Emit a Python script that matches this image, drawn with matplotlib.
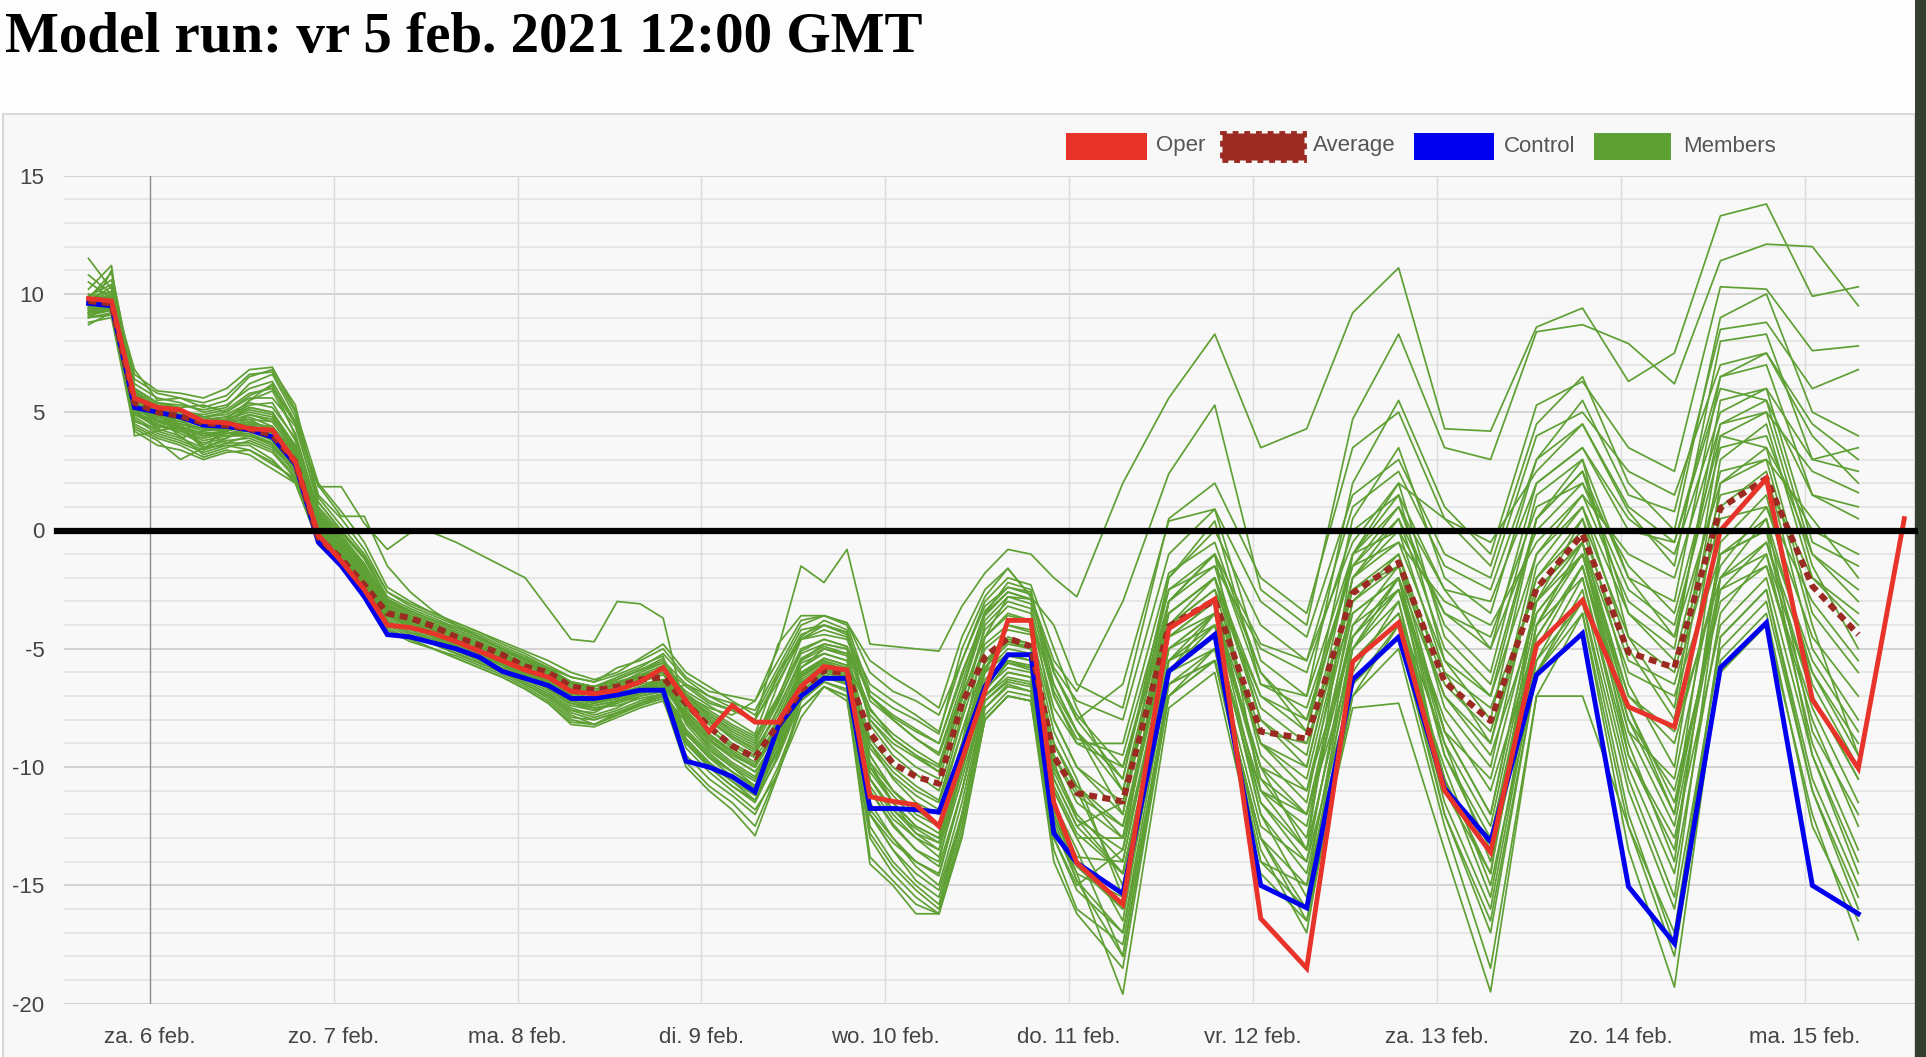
import matplotlib
matplotlib.use('Agg')
import matplotlib.pyplot as plt
from matplotlib.patches import Rectangle

W, H = 1926, 1057

# time axis: hours since za. 6 feb 00:00 (local), 3-hourly then 6-hourly
steps = list(range(3, 133, 3)) + list(range(138, 235, 6))
hours = [s - 11 for s in steps]
oper_hours = hours + [229]

day_ticks = [0, 24, 48, 72, 96, 120, 144, 168, 192, 216]
day_labels = ['za. 6 feb.', 'zo. 7 feb.', 'ma. 8 feb.', 'di. 9 feb.', 'wo. 10 feb.',
              'do. 11 feb.', 'vr. 12 feb.', 'za. 13 feb.', 'zo. 14 feb.', 'ma. 15 feb.']
y_major = [-20, -15, -10, -5, 0, 5, 10, 15]
y_minor = list(range(-20, 16))

oper = [9.8, 9.7, 5.6,
        5.2, 5.1, 4.6, 4.55, 4.3, 4.25, 2.9,
        -0.2, -1.3, -2.5, -4.0, -4.1, -4.35, -4.7, -5.1,
        -5.5, -5.9, -6.2, -6.8, -6.9, -6.75, -6.4, -5.8,
        -7.2, -8.5, -7.4, -8.1, -8.1, -6.6, -5.75, -5.9,
        -11.25, -11.45, -11.6, -12.5, -9.7, -6.8, -3.8, -3.8, -11.5, -14.05,
        -15.8, -4.15, -2.9, -16.4, -18.5, -5.55, -3.9, -11.0, -13.6, -4.85, -2.95,
        -7.45, -8.3, 0.0, 2.2, -7.15, -10.05, 0.5]

control = [9.6, 9.5, 5.2,
           5.0, 4.8, 4.45, 4.4, 4.25, 3.95, 2.8,
           -0.5, -1.5, -2.8, -4.4, -4.5, -4.75, -5.0, -5.35,
           -5.95, -6.25, -6.55, -7.1, -7.1, -6.95, -6.75, -6.75,
           -9.75, -10.0, -10.4, -11.05, -8.3, -7.0, -6.25, -6.25,
           -11.75, -11.75, -11.8, -11.9, -9.3, -6.6, -5.25, -5.25, -12.8, -14.05,
           -15.35, -5.95, -4.4, -15.0, -15.95, -6.3, -4.5, -10.9, -13.15, -6.1, -4.35,
           -15.05, -17.45, -5.8, -3.9, -15.0, -16.2]

average = [9.7, 9.6, 5.4,
           5.0, 4.85, 4.55, 4.45, 4.3, 4.05, 2.9,
           -0.3, -1.2, -2.3, -3.5, -3.7, -4.05, -4.5, -4.85,
           -5.25, -5.75, -6.0, -6.6, -6.75, -6.6, -6.3, -6.2,
           -7.3, -8.3, -9.1, -9.6, -8.2, -6.75, -5.9, -6.05,
           -8.55, -9.85, -10.4, -10.7, -7.3, -5.35, -4.55, -4.9, -9.55, -11.1,
           -11.45, -4.05, -2.95, -8.5, -8.8, -2.65, -1.35, -6.4, -8.05, -2.45, -0.15,
           -5.15, -5.8, 0.95, 2.2, -2.35, -4.4]

members = [
    [9.3, 9.6, 5.5, 5.0, 4.8, 4.5, 4.7, 5.0, 4.8, 3.4,
     0.5, -0.6, -1.7, -3.1, -3.6, -4.0, -4.4, -4.8, -5.2, -5.6, -6.0, -6.5, -6.6, -6.3, -5.9, -5.4,
     -7.0, -7.5, -7.8, -7.2, -5.0, -1.5, -2.2, -0.8, -4.8, -4.9, -5.0, -5.1, -3.2, -1.8, -0.8, -1.0, -2.0, -2.8,
     2.0, 5.6, 8.3, 3.5, 4.3, 9.2, 11.1, 4.3, 4.2, 8.6, 9.4, 6.3, 7.5, 13.3, 13.8, 9.9, 10.3],
    [9.8, 10.9, 6.2, 5.6, 5.4, 5.0, 5.2, 6.2, 6.6, 4.8,
     1.4, 0.2, -1.0, -2.6, -3.2, -3.6, -4.0, -4.4, -4.9, -5.3, -5.8, -6.2, -6.4, -5.8, -5.5, -5.0,
     -6.2, -6.8, -7.0, -7.2, -5.5, -3.8, -3.6, -4.0, -6.8, -7.5, -8.0, -8.6, -5.0, -2.8, -1.6, -2.8, -5.5, -6.8,
     -3.0, 2.4, 5.3, -2.5, -4.0, 4.7, 8.3, 3.5, 3.0, 8.4, 8.7, 7.9, 6.2, 11.4, 12.1, 12.0, 9.5],
    [9.5, 9.9, 5.8, 5.2, 5.0, 4.9, 5.1, 5.8, 6.0, 4.5,
     1.85, 1.85, 0.3, -0.8, -0.1, -0.1, -0.5, -1.0, -1.5, -2.0, -3.3, -4.6, -4.7, -3.0, -3.1, -3.7,
     -7.8, -8.8, -9.5, -10.0, -8.5, -6.0, -5.5, -6.0, -9.5, -11.0, -12.0, -12.5, -9.0, -4.5, -2.8, -2.9, -6.0, -8.0,
     -6.5, 0.4, 0.9, -5.5, -7.0, 2.0, 5.5, 1.0, -1.0, 5.3, 6.3, 3.5, 2.5, 10.3, 10.2, 7.6, 7.8],
    [10.2, 11.2, 4.0, 4.2, 4.4, 3.6, 4.2, 5.5, 6.2, 4.0,
     0.8, -0.4, -1.5, -3.0, -3.4, -3.8, -4.1, -4.5, -5.0, -5.4, -5.8, -6.4, -6.9, -6.5, -6.0, -5.6,
     -7.0, -7.8, -8.5, -9.0, -6.5, -4.5, -3.8, -4.2, -7.2, -8.0, -8.8, -9.5, -6.8, -3.5, -2.2, -2.5, -7.0, -9.0,
     -9.0, -1.8, -0.5, -6.0, -8.5, 0.5, 3.5, -2.0, -3.5, 3.0, 5.5, 1.5, 0.8, 8.5, 8.8, 6.0, 6.8],
    [9.1, 9.4, 5.2, 4.8, 4.5, 4.2, 4.3, 4.4, 4.0, 2.9,
     0.0, -1.0, -2.0, -3.6, -4.0, -4.4, -4.8, -5.2, -5.6, -6.0, -6.4, -7.0, -7.2, -7.0, -6.6, -6.4,
     -7.5, -8.2, -9.0, -9.5, -7.5, -5.5, -5.0, -5.2, -7.5, -8.8, -9.5, -10.0, -7.0, -4.5, -3.5, -3.8, -6.5, -8.5,
     -10.5, -2.5, -1.0, -4.8, -5.5, -0.5, 2.0, 0.5, -0.5, 2.5, 4.5, 0.8, -1.5, 8.0, 8.3, 3.0, 3.5],
    [9.6, 10.0, 6.6, 5.9, 5.8, 5.6, 6.0, 6.8, 6.9, 5.1,
     2.0, 0.8, -0.5, -2.4, -3.0, -3.5, -3.9, -4.3, -4.7, -5.1, -5.5, -6.0, -6.3, -6.0, -5.4, -4.8,
     -6.0, -6.6, -7.2, -7.8, -6.0, -4.2, -4.0, -4.4, -8.0, -9.2, -10.0, -10.5, -7.5, -4.8, -4.0, -4.2, -8.0, -10.0,
     -12.0, -3.0, -1.5, -8.0, -9.5, -1.0, 1.0, -4.0, -6.0, 1.5, 3.0, -2.0, -3.0, 6.5, 7.0, 1.5, 1.0],
    [9.2, 9.3, 4.6, 4.3, 4.0, 3.2, 3.5, 3.8, 3.4, 2.3,
     -0.3, -1.2, -2.1, -3.8, -4.3, -4.6, -5.0, -5.4, -5.8, -6.3, -6.8, -7.5, -7.8, -7.5, -7.0, -6.8,
     -8.5, -9.5, -10.2, -10.8, -9.0, -6.5, -5.8, -6.2, -9.0, -10.5, -11.5, -12.0, -9.0, -6.0, -5.0, -5.2, -9.5, -11.5,
     -13.0, -3.5, -2.0, -9.5, -11.5, -2.0, 0.5, -5.0, -7.0, 0.5, 2.5, -3.5, -5.0, 5.5, 6.0, -0.5, -1.5],
    [9.4, 9.8, 5.4, 4.9, 4.6, 4.7, 4.4, 4.9, 4.7, 3.6,
     0.9, -0.2, -1.4, -3.2, -3.7, -4.1, -4.5, -4.9, -5.3, -5.7, -6.1, -6.6, -6.8, -6.4, -6.1, -5.9,
     -6.8, -7.4, -8.0, -8.6, -6.0, -4.6, -4.2, -4.5, -6.5, -7.2, -7.8, -8.5, -5.5, -3.0, -2.0, -2.3, -5.0, -7.5,
     -11.0, -4.0, -2.5, -7.0, -8.0, -1.5, -0.5, -3.0, -4.0, -0.5, 1.5, -1.0, -2.0, 4.5, 5.0, 2.5, 1.6],
    [8.7, 9.2, 5.0, 4.6, 4.3, 4.0, 4.1, 4.2, 3.8, 2.6,
     -0.2, -1.1, -2.0, -3.5, -4.1, -4.5, -4.9, -5.3, -5.7, -6.2, -6.7, -7.3, -7.6, -7.2, -6.9, -6.6,
     -8.0, -9.0, -9.8, -10.4, -8.6, -6.2, -5.6, -5.9, -10.0, -11.5, -12.5, -13.0, -9.5, -6.0, -5.2, -5.5, -10.0, -12.0,
     -14.0, -4.5, -3.0, -10.5, -13.0, -3.0, -1.0, -7.5, -10.0, -1.5, 1.0, -5.0, -8.0, 3.0, 4.5, -2.0, -4.0],
    [9.9, 10.4, 5.7, 5.3, 5.1, 4.8, 4.9, 5.4, 5.2, 3.9,
     0.4, -0.7, -1.8, -3.3, -3.8, -4.2, -4.6, -5.0, -5.4, -5.9, -6.3, -6.9, -7.1, -6.9, -6.4, -6.1,
     -7.2, -8.0, -8.8, -9.4, -8.0, -6.0, -5.4, -5.7, -9.0, -10.2, -11.0, -11.5, -8.5, -5.5, -4.6, -4.8, -9.0, -11.0,
     -15.0, -5.0, -3.5, -11.5, -14.0, -4.0, -1.5, -8.5, -12.0, -3.0, 0.5, -6.5, -10.0, 2.0, 3.5, -3.5, -6.0],
    [9.0, 9.5, 4.3, 3.8, 3.0, 3.5, 3.6, 3.6, 3.0, 2.0,
     -0.5, -1.4, -2.2, -4.0, -4.5, -4.8, -5.2, -5.6, -6.0, -6.5, -7.0, -7.8, -8.2, -7.8, -7.3, -7.0,
     -9.0, -10.0, -10.8, -11.5, -9.5, -7.0, -6.2, -6.5, -11.0, -12.5, -13.5, -14.0, -10.0, -6.5, -5.5, -5.8, -11.0, -13.0,
     -16.5, -5.5, -4.0, -12.0, -15.5, -5.0, -2.0, -9.5, -13.5, -4.0, -0.5, -7.5, -12.0, 1.0, 2.5, -5.0, -8.0],
    [9.7, 10.1, 6.0, 5.4, 5.2, 5.3, 5.0, 5.6, 5.6, 4.4,
     1.2, 0.0, -1.2, -2.9, -3.4, -3.8, -4.2, -4.6, -5.0, -5.5, -5.9, -6.4, -6.6, -6.4, -6.2, -5.8,
     -7.6, -8.6, -9.4, -10.0, -8.2, -6.4, -5.9, -6.2, -10.5, -12.0, -13.0, -13.8, -10.5, -7.0, -6.0, -6.2, -11.5, -13.5,
     -18.0, -6.5, -5.0, -13.5, -17.0, -6.0, -3.0, -10.5, -15.5, -5.0, -1.5, -9.0, -14.0, -0.5, 1.5, -6.5, -10.0],
    [9.3, 9.6, 5.3, 4.7, 4.4, 4.1, 4.0, 4.1, 3.6, 2.4,
     -0.6, -1.4, -2.2, -4.2, -4.7, -5.0, -5.4, -5.8, -6.2, -6.7, -7.3, -8.2, -8.3, -7.9, -7.5, -7.2,
     -9.5, -10.5, -11.2, -12.0, -10.0, -7.5, -6.6, -7.0, -12.0, -13.5, -14.8, -15.5, -12.0, -7.5, -6.5, -6.8, -12.5, -14.5,
     -19.6, -7.5, -6.0, -14.5, -16.5, -7.0, -4.0, -12.0, -17.0, -6.0, -2.5, -10.5, -15.5, -2.0, 0.5, -8.5, -12.0],
    [10.5, 9.8, 5.9, 5.1, 4.9, 4.8, 4.6, 5.2, 5.0, 3.5,
     0.6, -0.5, -1.6, -3.2, -3.7, -4.1, -4.5, -4.9, -5.3, -5.8, -6.2, -6.8, -7.0, -6.7, -6.3, -6.0,
     -8.0, -9.2, -10.0, -10.6, -8.5, -5.8, -5.0, -5.3, -9.5, -11.0, -11.8, -12.5, -9.2, -5.8, -4.8, -5.0, -9.0, -10.8,
     -12.5, -4.5, -3.0, -9.0, -10.5, -2.5, -1.0, -6.5, -8.5, -2.0, 0.0, -5.5, -6.5, 0.5, 1.0, -4.5, -7.0],
    [9.5, 9.7, 5.1, 4.4, 4.2, 3.8, 4.0, 4.0, 3.7, 2.7,
     0.1, -0.9, -1.9, -3.5, -4.0, -4.4, -4.8, -5.2, -5.6, -6.1, -6.5, -7.1, -7.3, -7.1, -6.7, -6.4,
     -7.0, -7.8, -8.4, -8.9, -7.2, -5.2, -4.8, -5.0, -8.0, -9.0, -9.6, -10.2, -7.0, -4.5, -3.6, -3.8, -7.5, -9.0,
     -10.0, -3.5, -2.0, -7.5, -9.0, -2.5, -1.5, -6.0, -7.5, -2.5, -0.5, -6.0, -7.0, -1.0, 0.0, -5.5, -8.5],
    [9.2, 9.5, 4.9, 4.5, 4.1, 3.7, 3.9, 4.3, 3.9, 2.8,
     -0.1, -1.0, -1.9, -3.6, -4.1, -4.5, -4.9, -5.3, -5.7, -6.2, -6.6, -7.2, -7.5, -7.3, -7.0, -6.8,
     -8.8, -9.8, -10.5, -11.0, -9.0, -6.8, -6.0, -6.3, -10.8, -12.2, -13.0, -13.5, -10.0, -6.5, -5.6, -5.9, -10.5, -12.5,
     -11.5, -4.0, -3.0, -8.5, -9.0, -3.5, -2.0, -7.0, -9.5, -3.5, -1.0, -7.0, -8.5, -2.0, -0.5, -7.0, -10.5],
    [9.8, 9.9, 5.6, 5.0, 4.7, 4.4, 4.5, 4.8, 4.4, 3.2,
     0.3, -0.8, -1.8, -3.3, -3.9, -4.3, -4.7, -5.1, -5.5, -5.9, -6.4, -7.0, -7.2, -7.0, -6.8, -6.5,
     -9.8, -10.8, -11.5, -12.5, -10.2, -7.9, -6.6, -7.2, -13.0, -14.5, -15.5, -16.2, -13.0, -8.0, -7.0, -7.2, -13.0, -15.0,
     -13.5, -5.0, -4.0, -10.0, -11.0, -4.5, -2.5, -8.0, -11.0, -4.5, -1.5, -8.0, -11.0, -3.0, -1.5, -8.0, -12.5],
    [9.0, 9.2, 4.5, 4.0, 3.7, 3.3, 3.6, 3.4, 2.9, 2.1,
     -0.4, -1.3, -2.1, -3.9, -4.4, -4.8, -5.2, -5.6, -6.0, -6.5, -7.1, -7.9, -8.0, -7.7, -7.4, -7.0,
     -8.6, -9.6, -10.2, -10.8, -8.8, -6.5, -5.8, -6.0, -10.0, -11.2, -12.2, -12.8, -9.8, -6.3, -5.3, -5.5, -10.2, -12.2,
     -14.5, -5.5, -4.5, -11.0, -12.0, -5.5, -3.5, -9.0, -14.0, -5.5, -2.0, -9.5, -13.0, -4.0, -2.0, -9.5, -14.0],
    [9.6, 9.9, 5.4, 4.8, 4.5, 4.3, 4.3, 4.5, 4.1, 3.0,
     0.2, -0.9, -1.9, -3.4, -3.9, -4.3, -4.7, -5.1, -5.5, -6.0, -6.4, -7.0, -7.2, -6.9, -6.6, -6.3,
     -7.4, -8.4, -9.2, -9.8, -8.4, -6.1, -5.5, -5.8, -11.5, -13.0, -14.0, -14.5, -11.0, -7.0, -6.2, -6.4, -12.0, -14.0,
     -16.0, -6.0, -5.0, -12.5, -14.0, -6.5, -4.5, -10.0, -15.0, -6.0, -3.0, -11.0, -16.0, -5.0, -3.0, -11.0, -15.5],
    [9.4, 9.7, 5.0, 4.5, 4.2, 3.9, 4.1, 4.3, 3.9, 2.8,
     -0.2, -1.1, -2.0, -3.6, -4.1, -4.5, -4.9, -5.3, -5.7, -6.2, -6.7, -7.4, -7.6, -7.3, -6.9, -6.6,
     -9.2, -10.2, -11.0, -11.8, -10.3, -7.2, -6.4, -6.8, -13.8, -14.8, -15.8, -16.2, -12.5, -8.0, -7.0, -7.2, -13.5, -16.0,
     -17.5, -6.5, -5.5, -13.0, -16.0, -7.5, -7.3, -13.5, -19.5, -7.0, -7.0, -12.5, -18.0, -6.0, -4.0, -12.0, -17.3],
    [11.5, 10.2, 6.8, 5.5, 5.6, 5.2, 5.5, 6.5, 6.8, 5.3,
     1.2, 0.0, -1.1, -2.8, -3.3, -3.7, -4.1, -4.5, -5.0, -5.4, -5.9, -6.5, -6.6, -6.2, -5.8, -5.2,
     -6.3, -7.0, -7.5, -8.0, -4.8, -3.6, -3.6, -3.9, -6.0, -6.8, -7.2, -7.8, -5.5, -3.2, -2.4, -2.6, -6.5, -8.5,
     -12.0, -2.0, 0.4, -6.5, -7.0, -1.0, 0.0, -3.5, -4.5, 1.0, 2.0, -1.5, -3.5, 4.0, 3.5, 0.0, -1.0],
    [10.0, 9.6, 5.2, 4.6, 4.3, 3.5, 3.9, 4.5, 4.4, 3.3,
     0.3, -0.7, -1.7, -3.3, -3.8, -4.2, -4.6, -5.0, -5.4, -5.9, -6.3, -6.9, -7.1, -6.8, -6.5, -6.3,
     -7.3, -8.1, -8.7, -9.2, -7.8, -5.6, -5.2, -5.5, -7.8, -8.8, -9.5, -10.2, -7.2, -4.2, -3.2, -3.5, -7.0, -8.8,
     -9.5, -2.5, -1.5, -5.0, -6.0, 0.0, 1.5, -2.5, -3.0, 2.0, 3.5, 0.0, -0.5, 6.0, 5.5, 1.5, 0.5],
    [9.1, 11.0, 5.9, 5.3, 5.0, 4.5, 4.7, 5.5, 5.9, 4.1,
     0.8, -0.3, -1.4, -3.0, -3.5, -3.9, -4.3, -4.7, -5.1, -5.5, -6.0, -6.5, -6.7, -6.5, -6.1, -5.7,
     -6.6, -7.3, -7.6, -8.0, -6.2, -4.4, -4.0, -4.3, -7.0, -7.8, -8.4, -9.0, -6.0, -3.6, -2.6, -2.9, -5.8, -7.2,
     -8.0, -1.0, 0.9, -3.0, -4.5, 1.5, 3.0, -1.0, -2.0, 4.0, 5.0, 2.5, 1.5, 7.0, 7.5, 4.5, 3.0],
    [9.5, 9.6, 5.1, 4.7, 4.4, 4.0, 4.2, 4.4, 4.1, 3.0,
     0.0, -1.0, -2.0, -3.6, -4.1, -4.5, -4.9, -5.3, -5.7, -6.2, -6.7, -7.3, -7.5, -7.4, -7.1, -6.9,
     -8.1, -9.1, -9.9, -10.5, -8.8, -6.4, -5.8, -6.1, -12.5, -14.0, -15.0, -15.8, -12.0, -7.5, -6.6, -6.8, -12.0, -14.5,
     -15.5, -6.0, -4.5, -11.0, -12.5, -4.0, -2.5, -8.5, -10.5, -3.0, -0.5, -7.0, -9.0, -1.5, 1.0, -3.0, -5.5],
    [9.7, 10.3, 5.5, 4.9, 4.7, 4.4, 4.6, 4.9, 4.6, 3.3,
     0.4, -0.6, -1.7, -3.2, -3.7, -4.1, -4.5, -4.9, -5.3, -5.8, -6.3, -6.9, -7.1, -6.9, -6.6, -6.4,
     -7.8, -8.8, -9.6, -10.2, -8.8, -6.6, -6.0, -6.3, -11.0, -12.4, -13.5, -14.2, -11.0, -7.0, -6.0, -6.2, -11.8, -13.8,
     -14.0, -5.0, -3.5, -10.0, -13.5, -5.0, -3.0, -11.0, -13.0, -4.5, -1.5, -8.5, -12.5, -2.5, -0.5, -6.0, -9.0],
    [9.3, 9.5, 5.3, 4.6, 4.4, 4.1, 4.2, 4.6, 4.3, 3.1,
     0.1, -0.9, -1.9, -3.4, -3.9, -4.4, -4.8, -5.2, -5.6, -6.1, -6.5, -7.1, -7.3, -7.1, -6.8, -6.6,
     -7.5, -8.4, -9.1, -9.6, -8.2, -6.1, -5.6, -5.9, -9.2, -10.4, -11.2, -11.8, -8.5, -5.5, -4.7, -4.9, -9.0, -10.8,
     -13.0, -4.0, -2.5, -9.0, -11.0, -3.0, -1.5, -7.0, -9.0, -2.0, 0.5, -4.5, -6.0, 1.5, 2.0, -2.0, -3.5],
    [9.8, 9.7, 5.7, 5.1, 4.8, 4.6, 4.6, 4.7, 4.2, 3.0,
     0.2, -0.8, -1.8, -3.4, -3.9, -4.3, -4.7, -5.2, -5.6, -6.1, -6.6, -7.2, -7.4, -7.2, -6.9, -6.7,
     -8.4, -9.4, -10.2, -10.9, -9.4, -7.0, -6.2, -6.5, -11.8, -13.0, -14.2, -15.0, -11.5, -7.2, -6.3, -6.5, -12.0, -14.2,
     -16.0, -6.0, -4.0, -12.0, -14.5, -5.5, -3.5, -10.5, -14.5, -4.0, -2.0, -10.0, -14.5, -3.5, -1.0, -9.0, -13.5],
    [9.1, 9.3, 4.8, 4.2, 3.9, 3.5, 3.8, 3.9, 3.5, 2.5,
     -0.3, -1.2, -2.1, -3.8, -4.3, -4.7, -5.1, -5.5, -5.9, -6.4, -6.9, -7.6, -7.9, -7.6, -7.2, -6.9,
     -9.0, -10.0, -10.8, -11.4, -9.6, -7.2, -6.4, -6.7, -12.8, -14.2, -15.2, -16.0, -12.2, -7.8, -6.8, -7.0, -13.0, -15.2,
     -17.0, -7.0, -5.0, -14.0, -15.0, -6.5, -4.0, -11.5, -16.0, -5.5, -3.0, -12.0, -17.5, -4.5, -2.5, -10.5, -15.0],
    [9.6, 9.8, 5.6, 5.0, 4.8, 4.5, 4.7, 5.1, 4.9, 3.5,
     0.6, -0.4, -1.5, -3.1, -3.6, -4.0, -4.4, -4.8, -5.2, -5.6, -6.1, -6.7, -6.9, -6.6, -6.2, -5.9,
     -6.9, -7.6, -8.2, -8.7, -7.0, -5.0, -4.6, -4.9, -7.6, -8.6, -9.3, -9.9, -6.8, -3.8, -2.8, -3.1, -6.8, -8.5,
     -11.0, -3.0, -1.0, -6.5, -7.5, -1.5, 0.5, -3.5, -5.0, 0.0, 2.0, -2.5, -4.0, 3.5, 4.0, -1.0, -2.5],
    [9.4, 9.6, 5.4, 4.8, 4.6, 4.3, 4.4, 4.6, 4.2, 3.1,
     0.2, -0.8, -1.9, -3.4, -3.9, -4.3, -4.7, -5.1, -5.5, -6.0, -6.4, -7.0, -7.2, -7.0, -6.7, -6.4,
     -7.7, -8.6, -9.3, -9.9, -8.5, -6.3, -5.7, -6.0, -9.8, -11.0, -11.8, -12.4, -9.0, -5.6, -4.7, -5.0, -9.5, -11.2,
     -12.5, -4.0, -2.0, -8.0, -10.0, -2.0, -0.5, -5.5, -7.0, -1.0, 1.0, -3.5, -5.5, 2.5, 3.0, 0.5, -2.0],
    [9.9, 10.6, 6.0, 5.4, 5.3, 5.1, 5.3, 6.0, 6.3, 4.6,
     1.0, -0.1, -1.2, -2.9, -3.4, -3.8, -4.2, -4.6, -5.0, -5.4, -5.9, -6.4, -6.6, -6.3, -5.9, -5.5,
     -6.5, -7.2, -7.6, -8.0, -6.4, -4.6, -4.4, -4.6, -7.0, -7.9, -8.5, -9.0, -6.2, -3.4, -2.4, -2.7, -6.0, -7.8,
     -10.0, -3.0, -1.0, -6.0, -8.0, -1.5, 1.0, -2.5, -5.0, 2.0, 3.5, 0.5, -1.0, 5.0, 6.0, 3.0, 2.5],
    [9.2, 9.4, 4.7, 4.1, 3.8, 3.4, 3.7, 3.7, 3.3, 2.2,
     -0.4, -1.3, -2.1, -3.9, -4.4, -4.8, -5.2, -5.6, -6.0, -6.5, -7.0, -7.7, -8.0, -7.7, -7.3, -7.0,
     -8.9, -9.9, -10.6, -11.2, -9.3, -6.9, -6.1, -6.4, -10.5, -11.8, -12.8, -13.5, -10.2, -6.7, -5.8, -6.0, -10.8, -12.8,
     -14.5, -5.5, -3.5, -10.5, -12.0, -4.5, -2.0, -9.0, -12.5, -3.5, -1.0, -7.5, -11.5, -2.5, -1.5, -7.5, -11.5],
    [9.0, 9.1, 4.4, 3.9, 3.6, 3.1, 3.4, 3.2, 2.6, 2.0,
     -0.5, -1.4, -2.2, -4.1, -4.6, -5.0, -5.4, -5.8, -6.2, -6.7, -7.3, -8.1, -8.2, -7.8, -7.4, -7.1,
     -10.0, -11.0, -11.8, -12.9, -10.3, -7.5, -6.6, -7.0, -14.1, -15.0, -16.2, -16.2, -12.8, -8.0, -7.0, -7.2, -14.0, -16.2,
     -18.5, -7.0, -5.5, -13.0, -16.5, -7.0, -5.0, -12.5, -18.5, -7.0, -3.5, -13.5, -19.3, -5.5, -3.5, -12.5, -16.5],
    [9.5, 9.8, 5.8, 5.2, 5.0, 4.7, 4.8, 5.2, 5.0, 3.6,
     0.7, -0.4, -1.5, -3.1, -3.6, -4.0, -4.4, -4.8, -5.2, -5.7, -6.1, -6.7, -6.9, -6.6, -6.3, -6.0,
     -7.1, -8.0, -8.7, -9.3, -7.6, -5.4, -4.9, -5.2, -8.8, -10.0, -10.8, -11.4, -8.0, -5.0, -4.2, -4.4, -8.5, -10.5,
     -15.5, -5.5, -4.5, -11.5, -13.5, -5.0, -2.5, -9.5, -13.0, -4.0, -1.0, -8.0, -12.0, -2.0, -1.0, -7.0, -10.5],
    [10.8, 10.0, 6.4, 5.8, 5.6, 5.4, 5.7, 6.6, 6.7, 5.0,
     1.5, 0.5, -0.8, -2.6, -3.1, -3.5, -3.9, -4.3, -4.8, -5.2, -5.7, -6.2, -6.4, -6.1, -5.7, -5.3,
     -8.8, -9.8, -10.6, -11.4, -9.2, -6.2, -5.4, -5.7, -12.0, -13.2, -14.0, -14.6, -11.0, -6.8, -5.6, -5.8, -12.5, -14.8,
     -17.0, -6.0, -3.5, -9.0, -10.0, -2.0, 0.0, -6.0, -9.0, -1.0, 1.5, -3.0, -4.5, 2.0, 3.0, -4.0, -9.5],
    [8.8, 9.0, 4.2, 3.6, 3.4, 3.0, 3.3, 3.4, 2.8, 2.2,
     -0.6, -1.5, -2.3, -4.2, -4.6, -5.0, -5.3, -5.7, -6.1, -6.6, -7.2, -8.0, -8.2, -7.7, -7.3, -6.9,
     -6.5, -7.0, -7.3, -7.6, -5.8, -4.0, -3.6, -3.9, -5.5, -6.2, -6.8, -7.5, -4.5, -2.5, -1.6, -2.8, -4.0, -6.5,
     -7.5, 0.5, 2.0, -2.0, -3.5, 3.5, 5.0, 0.5, -1.5, 4.5, 6.5, 2.0, 0.0, 9.0, 10.0, 5.0, 4.0],
    [9.4, 9.9, 5.0, 4.3, 4.9, 3.4, 4.4, 4.7, 4.6, 3.4,
     0.5, -0.5, -1.6, -3.3, -3.8, -4.2, -4.7, -5.0, -5.4, -6.0, -6.5, -7.0, -7.3, -7.0, -6.2, -5.8,
     -8.2, -9.3, -10.0, -10.8, -9.0, -5.5, -4.8, -5.0, -9.8, -11.5, -12.8, -13.2, -10.0, -6.0, -4.0, -4.3, -9.8, -12.2,
     -13.5, -3.0, -1.0, -11.0, -13.5, -1.0, 1.5, -5.5, -8.0, 0.5, 3.0, -4.5, -7.5, 4.0, 5.0, -1.5, -5.0],
    [9.3, 9.5, 5.5, 5.0, 3.9, 4.2, 3.7, 4.0, 3.6, 2.6,
     -0.1, -1.1, -2.0, -3.7, -4.2, -4.6, -5.0, -5.5, -5.9, -6.4, -6.9, -7.6, -7.7, -7.2, -6.8, -6.5,
     -7.8, -8.7, -9.4, -10.0, -8.0, -5.8, -5.2, -5.5, -10.2, -11.5, -12.5, -13.0, -9.6, -5.8, -4.5, -4.8, -10.5, -12.5,
     -14.5, -6.5, -5.5, -13.0, -15.0, -4.5, -2.0, -11.0, -14.5, -2.5, -0.5, -9.5, -13.5, -1.0, 0.0, -9.5, -14.5],
    [9.6, 10.0, 6.0, 5.4, 5.1, 4.8, 5.0, 5.7, 6.1, 4.6,
     1.9, 0.6, 0.6, -1.5, -2.6, -3.4, -4.0, -4.5, -5.0, -5.4, -5.9, -6.4, -6.6, -6.3, -5.9, -5.6,
     -7.0, -7.7, -8.3, -8.8, -7.1, -4.6, -4.0, -4.3, -8.2, -9.5, -10.3, -11.0, -7.8, -4.0, -3.0, -3.3, -8.0, -10.0,
     -11.5, -3.5, -2.0, -7.0, -8.5, -1.0, 2.0, -4.5, -6.5, 0.5, 2.5, -2.0, -4.5, 4.5, 5.5, -1.0, -3.0],
    [9.2, 9.7, 5.2, 4.6, 4.5, 4.3, 4.2, 4.5, 4.1, 3.0,
     0.0, -1.0, -2.0, -3.5, -4.0, -4.5, -4.9, -5.3, -5.7, -6.2, -6.6, -7.2, -7.4, -7.2, -6.9, -6.7,
     -8.6, -9.6, -10.4, -11.0, -9.2, -6.9, -6.2, -6.4, -12.0, -13.5, -14.5, -15.2, -12.0, -7.2, -6.4, -6.6, -12.2, -14.8,
     -18.0, -7.0, -5.5, -14.0, -16.0, -6.5, -4.5, -12.0, -16.5, -6.0, -3.5, -12.5, -17.0, -4.5, -2.5, -11.0, -16.0],
    [9.9, 10.1, 5.6, 5.1, 4.9, 4.6, 4.8, 5.3, 5.4, 3.8,
     0.5, -0.5, -1.5, -3.0, -3.5, -3.9, -4.3, -4.7, -5.1, -5.5, -6.0, -6.6, -6.8, -6.5, -6.2, -5.9,
     -7.0, -7.9, -8.6, -9.1, -7.3, -5.1, -4.6, -4.9, -7.0, -8.0, -8.8, -9.4, -6.5, -3.5, -2.6, -2.9, -6.0, -8.0,
     -10.5, -2.0, 0.0, -4.0, -5.5, 1.0, 2.5, -1.5, -2.5, 3.0, 4.5, 1.0, -0.5, 6.5, 7.5, 4.0, 2.0],
    [9.5, 9.4, 4.9, 4.4, 4.3, 4.0, 4.1, 4.1, 3.7, 2.7,
     0.2, -0.9, -1.9, -3.4, -4.0, -4.4, -4.8, -5.2, -5.6, -6.1, -6.5, -7.1, -7.3, -7.1, -6.7, -6.5,
     -7.9, -8.9, -9.6, -10.2, -8.7, -6.5, -5.9, -6.2, -10.5, -11.8, -12.6, -13.2, -10.0, -6.5, -5.5, -5.7, -11.0, -13.0,
     -13.0, -4.5, -3.5, -10.0, -12.0, -3.5, -2.0, -8.5, -12.0, -3.0, -1.0, -8.5, -10.5, -1.0, 0.5, -6.0, -9.5],
]

legend_labels = ['Oper', 'Average', 'Control', 'Members']
c_oper = '#e8332a'
c_avg = '#9b2a22'
c_ctrl = '#0000ee'
c_memb = '#5fa035'

sans = ['Liberation Sans', 'DejaVu Sans']
plt.rcParams['font.family'] = sans

fig = plt.figure(figsize=(W / 100, H / 100), dpi=100, facecolor='#fdfdfd')

# chart frame
fig.add_artist(Rectangle((3 / W, -0.01), (1915 - 3) / W, 1 - 114 / H + 0.01,
                         transform=fig.transFigure, facecolor='#f8f8f8',
                         edgecolor='#d8d8d8', lw=1.5, zorder=0))
# dark strip at the right edge of the screenshot
fig.add_artist(Rectangle((1915 / W, 0), (W - 1915) / W, 1, transform=fig.transFigure,
                         facecolor='#353f2f', edgecolor='none', zorder=0))

fig.text(5 / W, 1 - 52 / H, 'Model run: vr 5 feb. 2021 12:00 GMT',
         family=['Liberation Serif', 'DejaVu Serif'], weight='bold', fontsize=41,
         va='baseline', ha='left', color='#000000')

ax = fig.add_axes([64 / W, 1 - 1003.7 / H, (1915 - 64) / W, (1003.7 - 175.6) / H])
ax.set_facecolor('none')
ax.set_xlim(-11.2, 230.4)
ax.set_ylim(-20, 15)
for s in ax.spines.values():
    s.set_visible(False)

for v in y_minor:
    if v in y_major:
        ax.axhline(v, color='#c4c4c4' if v == -20 else '#d2d2d2', lw=1.8 if v == -20 else 1.4, zorder=0)
    else:
        ax.axhline(v, color='#e1e1e1', lw=1.1, zorder=0)
for i, d in enumerate(day_ticks):
    ax.axvline(d, color='#8a8a8a' if i == 0 else '#dcdcdc', lw=1.0, zorder=0)

for m in members:
    ax.plot(hours, m, color=c_memb, lw=1.25, zorder=2)
ax.plot(hours, control, color=c_ctrl, lw=3.5, zorder=3, solid_joinstyle='miter')
ax.plot(hours, average, color=c_avg, lw=4.4, ls=(0, (1.3, 0.9)), zorder=4, dash_capstyle='butt')
ax.plot(oper_hours, oper, color=c_oper, lw=3.5, zorder=5, solid_joinstyle='miter')

ax.axhline(0, xmin=-0.004, color='black', lw=4.5, zorder=6, clip_on=False)

ax.set_yticks(y_major)
ax.set_yticklabels([str(v) for v in y_major])
ax.set_xticks(day_ticks)
ax.set_xticklabels(day_labels)
ax.tick_params(axis='y', length=0, pad=14, labelsize=16, labelcolor='#444444')
ax.tick_params(axis='x', length=0, pad=17, labelsize=16, labelcolor='#444444')

# legend drawn as boxes and text on the figure
box_x = [1066, 1222, 1414, 1594]
text_x = [1156, 1313, 1504, 1683]
box_w = [81, 82, 80, 77]
box_c = [c_oper, c_avg, c_ctrl, c_memb]
for lab, bx, tx, bw, bc in zip(legend_labels, box_x, text_x, box_w, box_c):
    if lab == 'Average':
        r = Rectangle((bx / W, 1 - 160 / H), bw / W, 27 / H, transform=fig.transFigure,
                      facecolor=bc, edgecolor=bc, lw=3.5, ls=(0, (1.2, 1.2)), zorder=3)
    else:
        r = Rectangle((bx / W, 1 - 160 / H), bw / W, 27 / H, transform=fig.transFigure,
                      facecolor=bc, edgecolor='none', zorder=3)
    fig.add_artist(r)
    fig.text(tx / W, 1 - 146 / H, lab, fontsize=16, color='#555555', va='center', ha='left')

fig.savefig('out.png', dpi=100, facecolor=fig.get_facecolor())
